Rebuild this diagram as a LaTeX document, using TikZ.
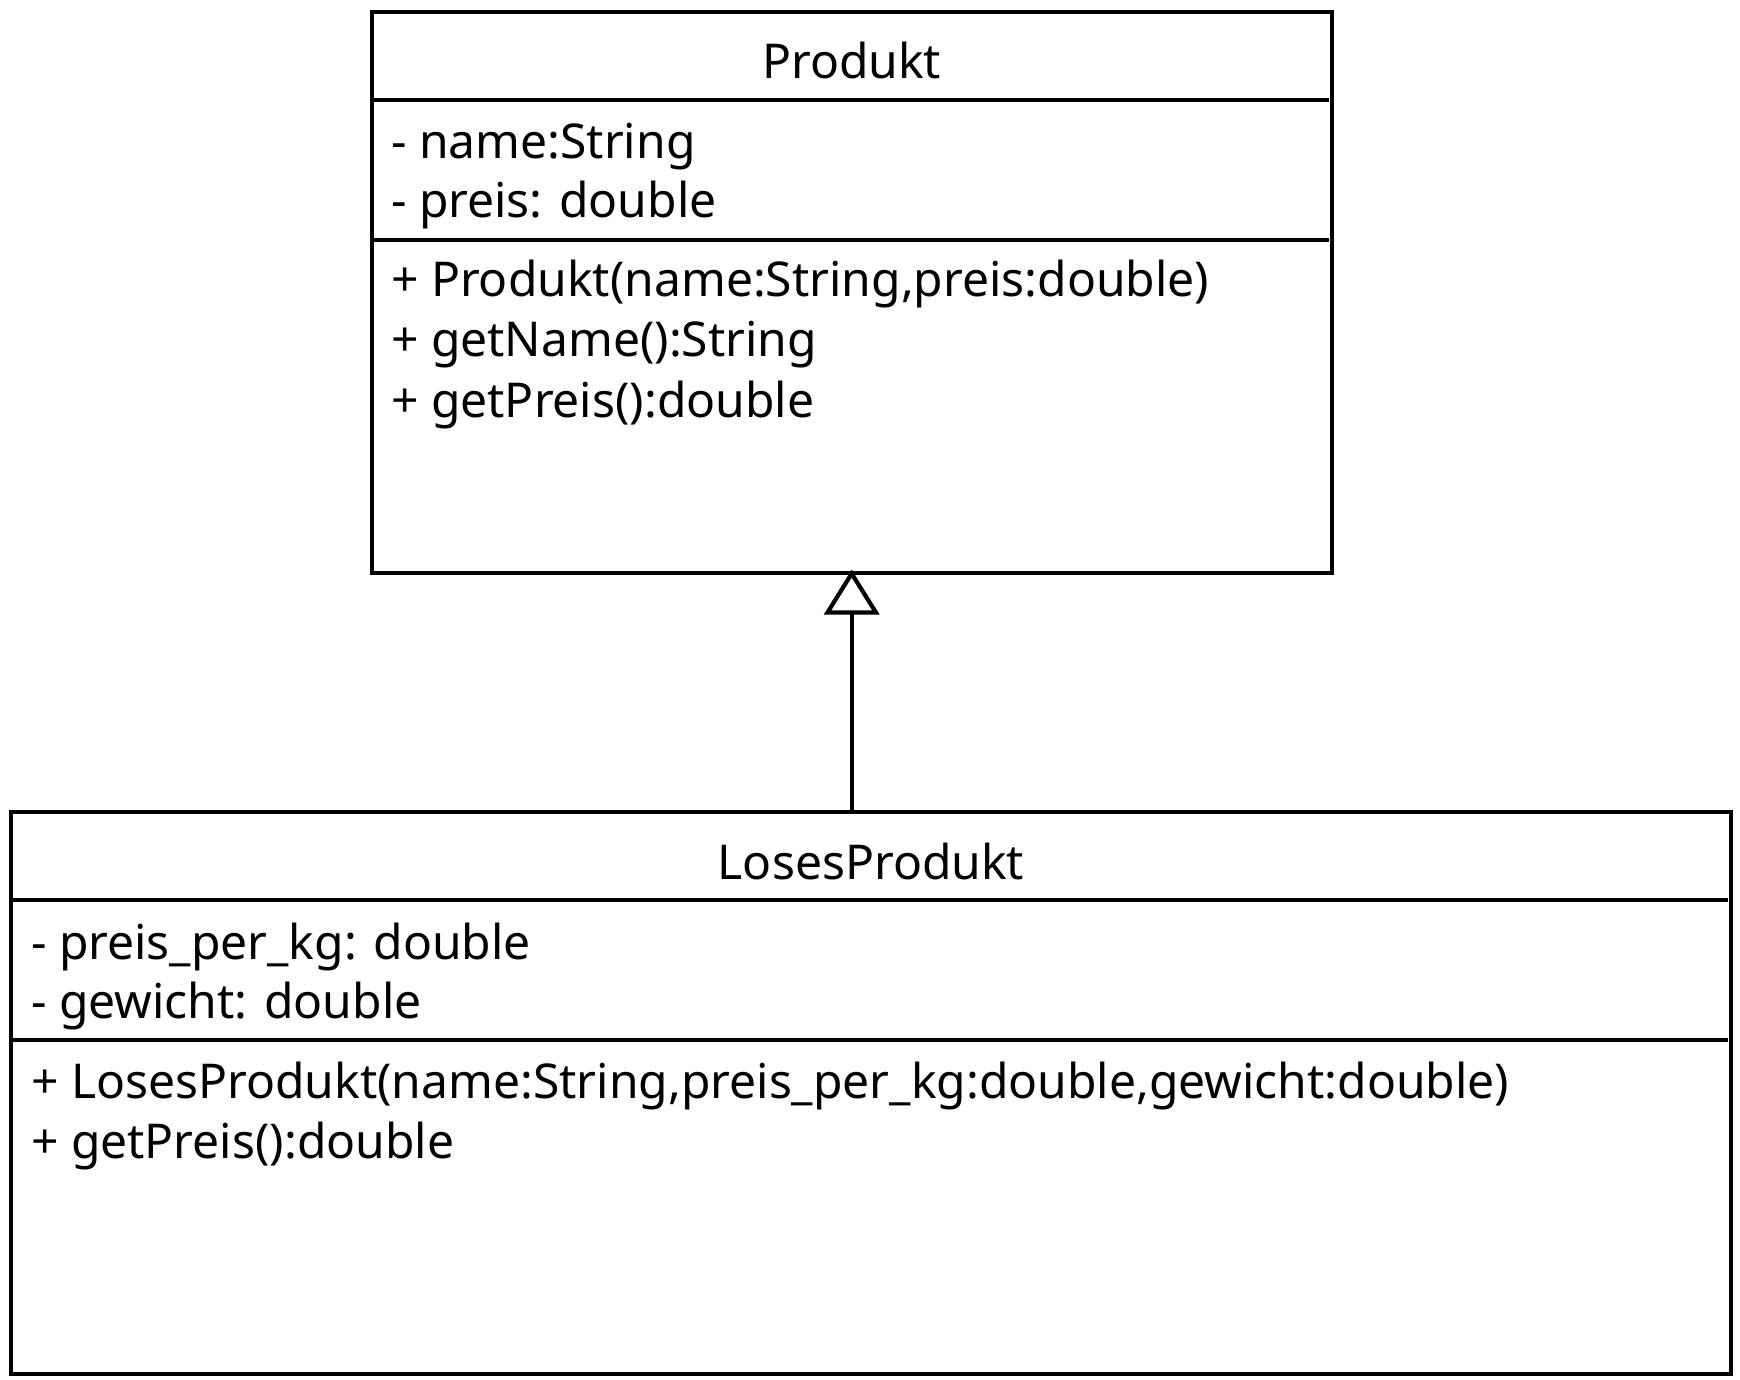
\documentclass[tikz,border=0pt]{standalone}
\usepackage{fontspec}
\setmainfont{Noto Sans}
\usetikzlibrary{arrows.meta}
\begin{document}
\begin{tikzpicture}[x=0.5pt, y=-0.5pt, line width=2.1pt,
    every node/.style={font=\fontsize{24}{29.5}\selectfont, inner sep=0pt},
    classbox/.style={draw, rectangle, outer sep=0pt}]
\useasboundingbox (0,0) rectangle (1740,1380);
\node[classbox, minimum width=480pt, minimum height=280.2pt] (produkt) at (851.7,292.4) {};
\node[classbox, minimum width=860pt, minimum height=281pt] (loses) at (871,1093) {};
\draw (produkt.west |- 0,100) -- (1329,100);
\draw (produkt.west |- 0,240) -- (1329,240);
\draw (loses.west |- 0,900) -- (1728,900);
\draw (loses.west |- 0,1040) -- (1728,1040);
\node[anchor=base] (ptitle) at (851.7,79) {Produkt};
\node[anchor=base west] (pattr1) at (389,159) {- name:String};
\node[anchor=base west] (pattr2) at (389,218) {- preis: double};
\node[anchor=base west] (pmeth1) at (389,297) {+ Produkt(name:String,preis:double)};
\node[anchor=base west] (pmeth2) at (389,357) {+ getName():String};
\node[anchor=base west] (pmeth3) at (389,417) {+ getPreis():double};
\node[anchor=base] (ltitle) at (871,879) {LosesProdukt};
\node[anchor=base west] (lattr1) at (29,959) {- preis\_per\_kg: double};
\node[anchor=base west] (lattr2) at (29,1018) {- gewicht: double};
\node[anchor=base west] (lmeth1) at (29,1098) {+ LosesProdukt(name:String,preis\_per\_kg:double,gewicht:double)};
\node[anchor=base west] (lmeth2) at (29,1158) {+ getPreis():double};
\coordinate (lbase) at (produkt.south |- loses.north);
\draw[-{Triangle[open, width=27.5pt, length=22.5pt]}, shorten >=-1.5pt] (lbase) -- (produkt.south);
\end{tikzpicture}
\end{document}
